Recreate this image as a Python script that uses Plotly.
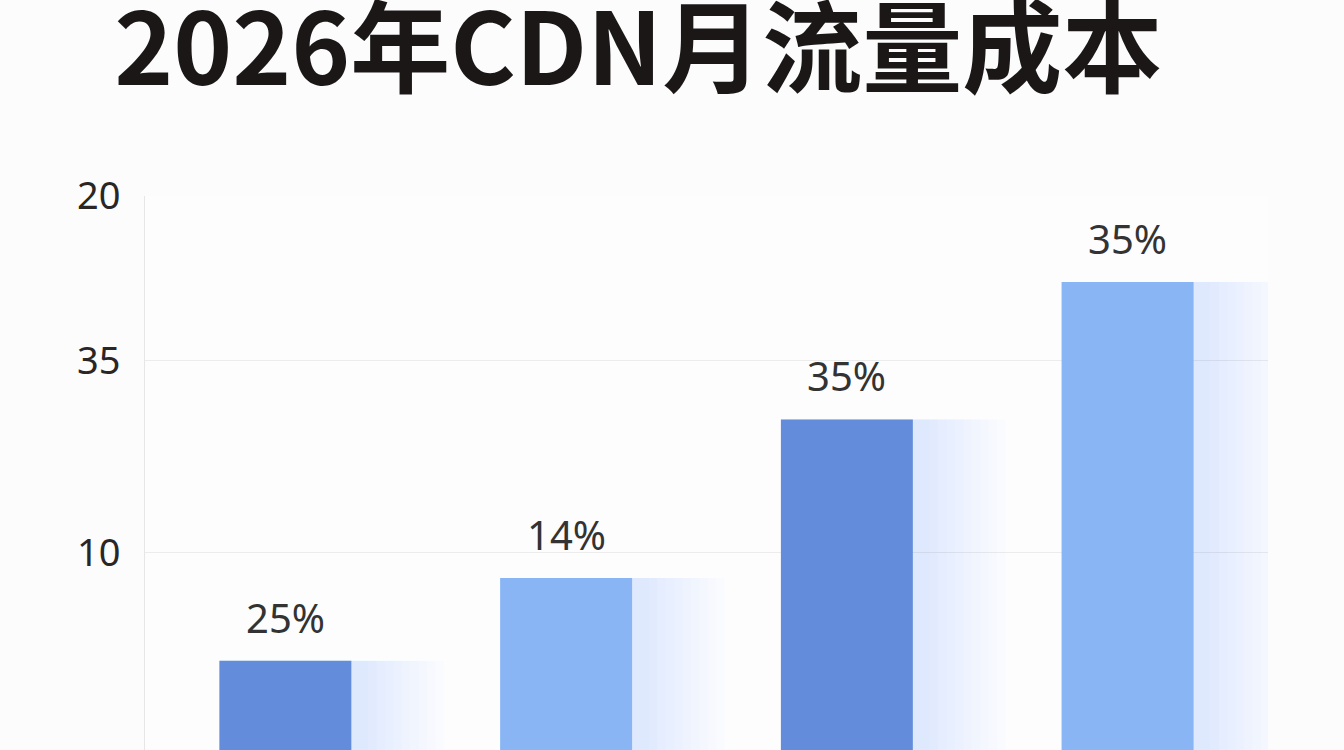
import plotly.graph_objects as go

# values (bar heights in axis units, labels as printed)
categories = ["Q1", "Q2", "Q3", "Q4"]
bar_values = [4.85, 8.8, 16.35, 22.9]
bar_labels = ["25%", "14%", "35%", "35%"]
bar_colors = ["#638ddb", "#89b5f5", "#638ddb", "#89b5f5"]

tick_values = [10, 19.15, 27]
tick_labels = ["10", "35", "20"]

fig = go.Figure()

# soft glow to the right of each bar, built from faint layers
for i in range(10):
    fig.add_trace(go.Bar(
        x=categories, y=bar_values,
        width=0.80 - i * 0.03, offset=-0.235,
        marker=dict(color="rgba(125,165,240,0.022)", line=dict(width=0)),
        hoverinfo="skip", showlegend=False,
    ))

fig.add_trace(go.Bar(
    x=categories, y=bar_values,
    width=0.47,
    marker=dict(color=bar_colors, line=dict(width=0)),
    showlegend=False,
))

for cat, val, lab in zip(categories, bar_values, bar_labels):
    fig.add_annotation(
        x=cat, y=val, text=lab, showarrow=False,
        yanchor="bottom", yshift=14,
        font=dict(family="Noto Sans", size=40, color="#333333"),
    )

fig.update_layout(
    width=1344, height=750,
    barmode="overlay",
    title=dict(
        text="<b>2026年CDN月流量成本</b>",
        xref="container", yref="container",
        x=0.085, y=0.934, xanchor="left", yanchor="middle",
        font=dict(family="Noto Sans CJK SC", size=100, color="#1b1717"),
    ),
    margin=dict(l=145, r=76, t=196, b=0),
    paper_bgcolor="#fcfcfd",
    plot_bgcolor="#fdfdfe",
)

fig.update_yaxes(
    range=[0.6, 27],
    tickvals=tick_values, ticktext=tick_labels,
    tickfont=dict(family="Noto Sans", size=38, color="#2a2626"),
    ticklabelstandoff=16,
    showgrid=True, gridcolor="#ececec", gridwidth=1,
    showline=True, linecolor="#e6e6e6", linewidth=1,
    zeroline=False, ticks="",
)
fig.update_xaxes(range=[-0.5, 3.5], showticklabels=False, showgrid=False,
                 zeroline=False, showline=False)

fig.write_html("out.html", config={"displayModeBar": False},
               post_script="document.body.style.margin='0';")
